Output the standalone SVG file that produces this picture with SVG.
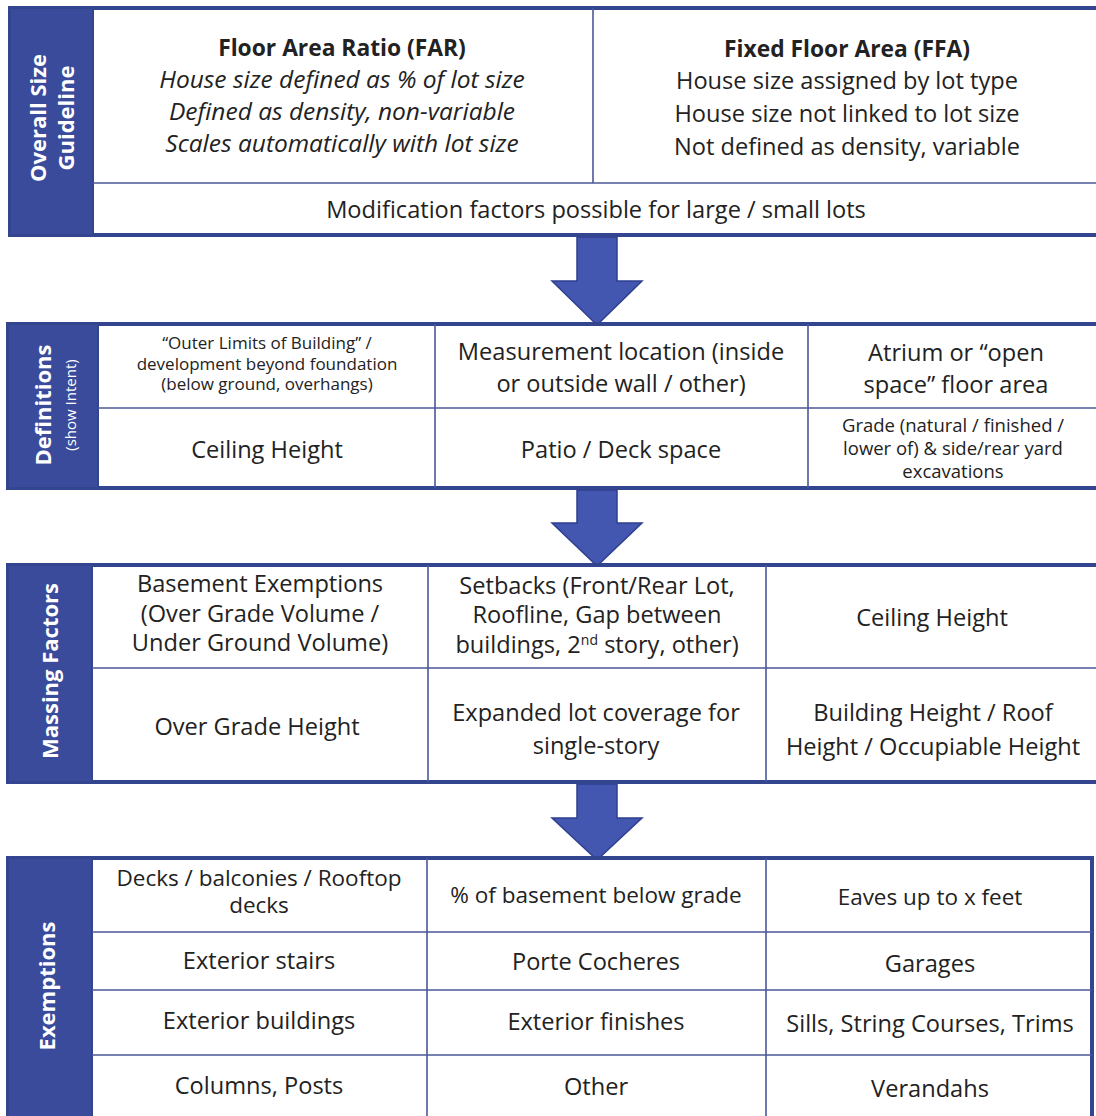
<svg xmlns="http://www.w3.org/2000/svg" width="1096" height="1116" viewBox="0 0 1096 1116">
<style>
.frame{fill:#fff;stroke:#34458f;stroke-width:4}
.lab{fill:#3a4b9c;stroke:#34458f;stroke-width:2}
.div{stroke:#4a5799;stroke-width:1.6;fill:none}
.t{font-family:"Open Sans",Lato,sans-serif;font-size:23.6px;fill:#222;text-anchor:middle}
.e{font-size:22.5px}
.s{font-size:17px}
.g{font-size:18.5px}
.b{font-weight:bold;font-size:22.8px}
.i{font-style:italic;font-size:24.5px}
.lt{font-family:"Open Sans",Lato,sans-serif;font-weight:bold;font-size:22px;fill:#fff;text-anchor:middle}
.arr{fill:#4356b0;stroke:#2f3f8f;stroke-width:1.5}
</style>

<g id="connectors">
<polygon class="arr" points="577,237 617,237 617,281 642,281 597,325 552,281 577,281"/>
<polygon class="arr" points="577,490 617,490 617,523 642,523 597,566 552,523 577,523"/>
<polygon class="arr" points="577,784 617,784 617,818 642,818 597,860 552,818 577,818"/>
</g>

<g id="overall-size">
<rect class="frame" x="10" y="8" width="1090" height="227"/>
<rect class="lab" x="10" y="8" width="83" height="227"/>
<line class="div" x1="93" y1="183" x2="1096" y2="183"/>
<line class="div" x1="593" y1="8" x2="593" y2="183"/>
<text class="lt" transform="translate(46,118) rotate(-90)">Overall Size</text>
<text class="lt" transform="translate(74,118) rotate(-90)">Guideline</text>
<text class="t b" x="342" y="56">Floor Area Ratio (FAR)</text>
<text class="t i" x="342" y="88">House size defined as % of lot size</text>
<text class="t i" x="342" y="120">Defined as density, non-variable</text>
<text class="t i" x="342" y="152">Scales automatically with lot size</text>
<text class="t b" x="847" y="57">Fixed Floor Area (FFA)</text>
<text class="t" x="847" y="89">House size assigned by lot type</text>
<text class="t" x="847" y="122">House size not linked to lot size</text>
<text class="t" x="847" y="155">Not defined as density, variable</text>
<text class="t" x="596" y="218">Modification factors possible for large / small lots</text>
</g>

<g id="definitions">
<rect class="frame" x="8" y="324" width="1092" height="164"/>
<rect class="lab" x="8" y="324" width="90" height="164"/>
<line class="div" x1="98" y1="408" x2="1096" y2="408"/>
<line class="div" x1="435" y1="324" x2="435" y2="488"/>
<line class="div" x1="808" y1="324" x2="808" y2="488"/>
<text class="lt" transform="translate(51,405) rotate(-90)">Definitions</text>
<text class="lt" style="font-weight:normal;font-size:15px" transform="translate(76,405) rotate(-90)">(show Intent)</text>
<text class="t s" x="267" y="349">“Outer Limits of Building” /</text>
<text class="t s" x="267" y="369.5">development beyond foundation</text>
<text class="t s" x="267" y="390">(below ground, overhangs)</text>
<text class="t" x="621" y="360">Measurement location (inside</text>
<text class="t" x="621" y="392">or outside wall / other)</text>
<text class="t" x="956" y="361">Atrium  or “open</text>
<text class="t" x="956" y="393">space”  floor area</text>
<text class="t" x="267" y="458">Ceiling Height</text>
<text class="t" x="621" y="458">Patio / Deck space</text>
<text class="t g" x="953" y="432">Grade (natural / finished /</text>
<text class="t g" x="953" y="455">lower of) &amp; side/rear yard</text>
<text class="t g" x="953" y="478">excavations</text>
</g>

<g id="massing-factors">
<rect class="frame" x="8" y="565" width="1092" height="217"/>
<rect class="lab" x="8" y="565" width="84" height="217"/>
<line class="div" x1="92" y1="668" x2="1096" y2="668"/>
<line class="div" x1="428" y1="565" x2="428" y2="782"/>
<line class="div" x1="766" y1="565" x2="766" y2="782"/>
<text class="lt" transform="translate(58,671) rotate(-90)">Massing Factors</text>
<text class="t" x="260" y="592">Basement Exemptions</text>
<text class="t" x="260" y="622">(Over Grade Volume /</text>
<text class="t" x="260" y="651">Under Ground Volume)</text>
<text class="t" x="597" y="594">Setbacks (Front/Rear Lot,</text>
<text class="t" x="597" y="623">Roofline, Gap between</text>
<text class="t" x="597" y="653">buildings, 2<tspan dy="-8" style="font-size:14px">nd</tspan><tspan dy="8"> story, other)</tspan></text>
<text class="t" x="932" y="626">Ceiling Height</text>
<text class="t" x="257" y="735">Over Grade Height</text>
<text class="t" x="596" y="721">Expanded lot coverage for</text>
<text class="t" x="596" y="754">single-story</text>
<text class="t" x="933" y="721">Building Height / Roof</text>
<text class="t" x="933" y="755">Height / Occupiable Height</text>
</g>

<g id="exemptions">
<rect class="frame" x="8" y="858" width="1084" height="270"/>
<rect class="lab" x="8" y="858" width="84" height="270"/>
<line class="div" x1="92" y1="932" x2="1092" y2="932"/>
<line class="div" x1="92" y1="990" x2="1092" y2="990"/>
<line class="div" x1="92" y1="1055" x2="1092" y2="1055"/>
<line class="div" x1="427" y1="858" x2="427" y2="1116"/>
<line class="div" x1="766" y1="858" x2="766" y2="1116"/>
<text class="lt" transform="translate(55,986) rotate(-90)">Exemptions</text>
<text class="t e" x="259" y="886">Decks / balconies / Rooftop</text>
<text class="t e" x="259" y="913">decks</text>
<text class="t e" x="596" y="903">% of basement below grade</text>
<text class="t e" x="930" y="905">Eaves up to x feet</text>
<text class="t" x="259" y="969">Exterior stairs</text>
<text class="t" x="596" y="970">Porte Cocheres</text>
<text class="t" x="930" y="972">Garages</text>
<text class="t" x="259" y="1029">Exterior buildings</text>
<text class="t" x="596" y="1030">Exterior finishes</text>
<text class="t" x="930" y="1032">Sills, String Courses, Trims</text>
<text class="t" x="259" y="1094">Columns, Posts</text>
<text class="t" x="596" y="1095">Other</text>
<text class="t" x="930" y="1097">Verandahs</text>
</g>
</svg>
